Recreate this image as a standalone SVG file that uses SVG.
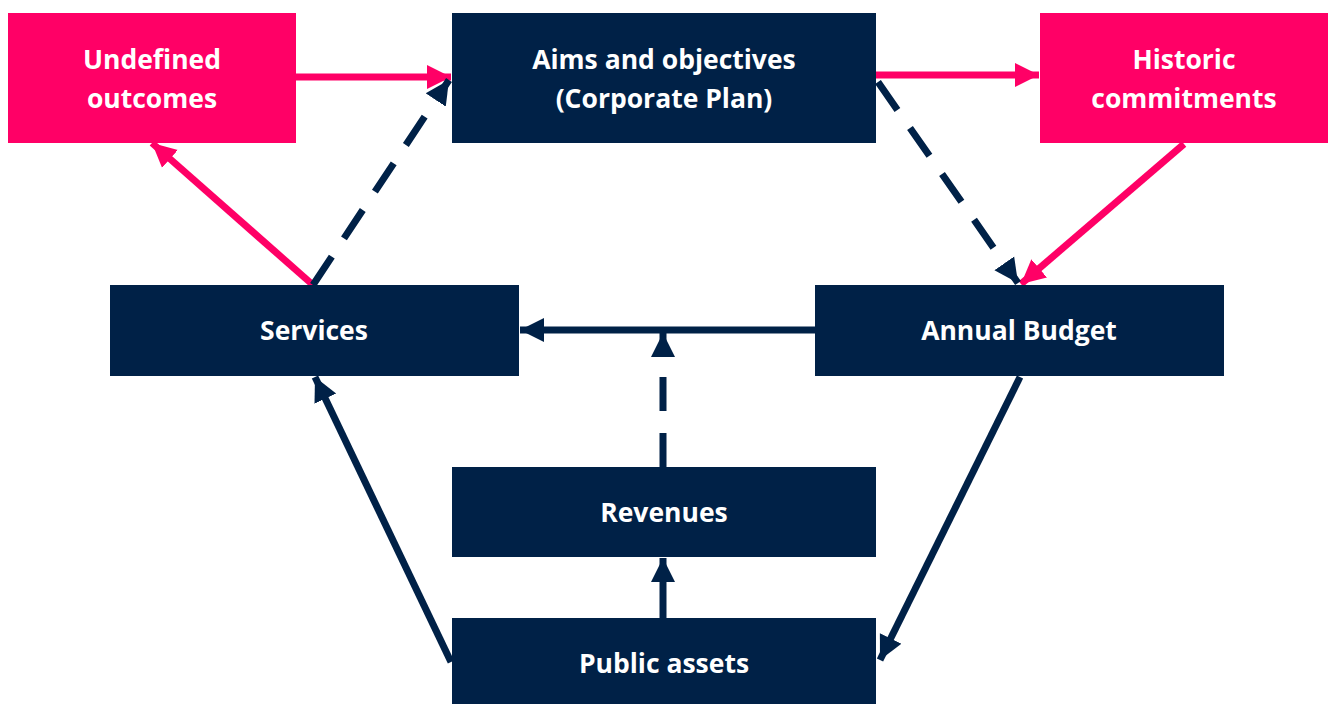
<svg xmlns="http://www.w3.org/2000/svg" width="1332" height="704" viewBox="0 0 1332 704">
  <style>
    .pink { fill: #FF0066; }
    .navy { fill: #002147; }
    .lbl { font-family: "Open Sans", "Liberation Sans", sans-serif; font-weight: bold; font-size: 26.5px; fill: #FFFFFF; text-anchor: middle; }
    .ln { fill: none; stroke-width: 7; }
    .lp { stroke: #FF0066; marker-end: url(#ahP); }
    .ld { stroke: #002147; marker-end: url(#ahN); }
    .dash { stroke-dasharray: 34 22; }
  </style>
  <defs>
    <marker id="ahP" markerUnits="userSpaceOnUse" markerWidth="26" markerHeight="26" viewBox="0 0 26 26" refX="24" refY="13" orient="auto">
      <path d="M0,1 L24,13 L0,25 Z" fill="#FF0066"/>
    </marker>
    <marker id="ahN" markerUnits="userSpaceOnUse" markerWidth="26" markerHeight="26" viewBox="0 0 26 26" refX="24" refY="13" orient="auto">
      <path d="M0,1 L24,13 L0,25 Z" fill="#002147"/>
    </marker>
  </defs>

  <!-- arrows between the boxes -->
  <g id="connectors">
    <line class="ln lp" x1="296" y1="77" x2="451" y2="77"/>
    <line class="ln lp" x1="876" y1="75" x2="1039" y2="75"/>
    <line class="ln lp" x1="1184" y1="144" x2="1021" y2="284"/>
    <line class="ln lp" x1="313" y1="285" x2="152" y2="143"/>
    <line class="ln ld dash" x1="313" y1="285" x2="449" y2="80"/>
    <line class="ln ld dash" x1="878" y1="82" x2="1018" y2="283"/>
    <line class="ln ld" x1="815" y1="330" x2="520" y2="330"/>
    <line class="ln ld dash" x1="663" y1="467" x2="663" y2="333"/>
    <line class="ln ld" x1="663" y1="618" x2="663" y2="558"/>
    <line class="ln ld" x1="451" y1="662" x2="315" y2="377"/>
    <line class="ln ld" x1="1020" y1="377" x2="880" y2="660"/>
  </g>

  <g id="undefined-outcomes">
    <rect class="pink" x="8" y="13" width="288" height="130"/>
    <text class="lbl" x="152" y="69">Undefined</text>
    <text class="lbl" x="152" y="108">outcomes</text>
  </g>
  <g id="aims-objectives">
    <rect class="navy" x="452" y="13" width="424" height="130"/>
    <text class="lbl" x="664" y="69">Aims and objectives</text>
    <text class="lbl" x="664" y="108">(Corporate Plan)</text>
  </g>
  <g id="historic-commitments">
    <rect class="pink" x="1040" y="13" width="288" height="130"/>
    <text class="lbl" x="1184" y="69">Historic</text>
    <text class="lbl" x="1184" y="108">commitments</text>
  </g>
  <g id="services">
    <rect class="navy" x="110" y="285" width="409" height="91"/>
    <text class="lbl" x="314" y="340">Services</text>
  </g>
  <g id="annual-budget">
    <rect class="navy" x="815" y="285" width="409" height="91"/>
    <text class="lbl" x="1019" y="340">Annual Budget</text>
  </g>
  <g id="revenues">
    <rect class="navy" x="452" y="467" width="424" height="90"/>
    <text class="lbl" x="664" y="522">Revenues</text>
  </g>
  <g id="public-assets">
    <rect class="navy" x="452" y="618" width="424" height="86"/>
    <text class="lbl" x="664" y="673">Public assets</text>
  </g>
</svg>
